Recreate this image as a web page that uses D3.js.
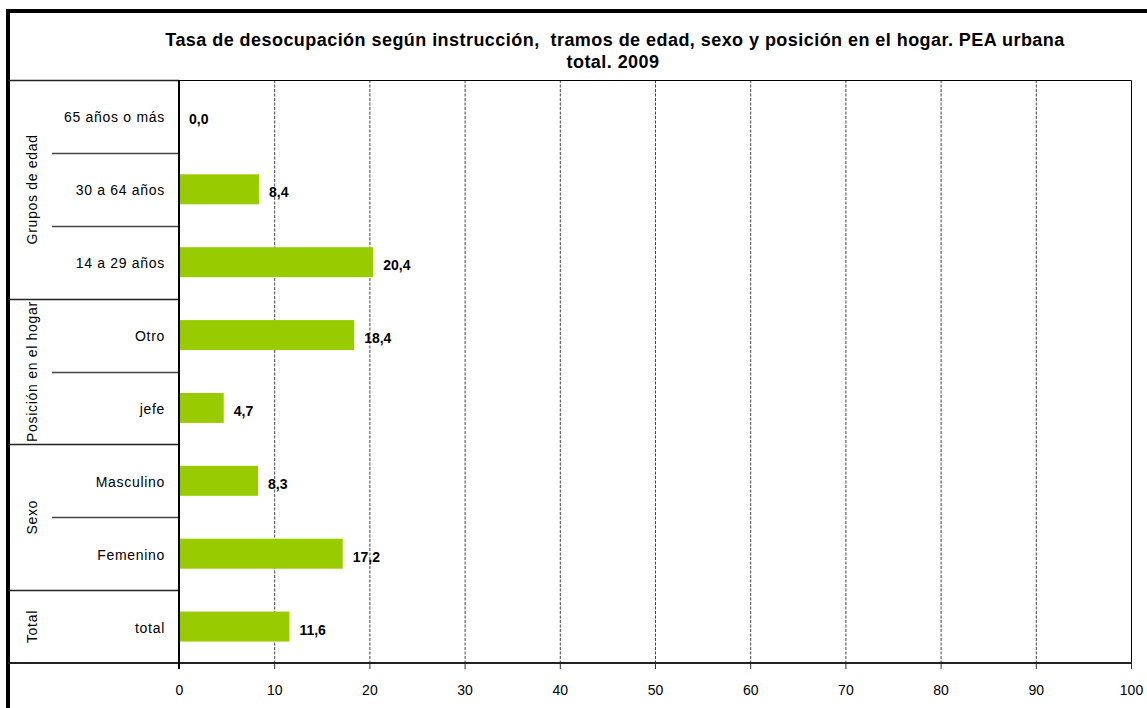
<!DOCTYPE html>
<html>
<head>
<meta charset="utf-8">
<script src="https://cdn.jsdelivr.net/npm/d3@7"></script>
<style>
  body { margin: 0; background: #fff; }
  svg { display: block; font-family: "Liberation Sans", Arial, sans-serif; }
</style>
</head>
<body>
<svg id="chart" width="1147" height="708"></svg>
<script>
// chart data
var titleLines = ["Tasa de desocupación según instrucción,  tramos de edad, sexo y posición en el hogar. PEA urbana", "total. 2009"];
var groups = ["Grupos de edad", "Posición en el hogar", "Sexo", "Total"];
var categories = ["65 años o más", "30 a 64 años", "14 a 29 años", "Otro", "jefe", "Masculino", "Femenino", "total"];
var categoryGroup = [0, 0, 0, 1, 1, 2, 2, 3];
var values = [0.0, 8.4, 20.4, 18.4, 4.7, 8.3, 17.2, 11.6];
var xTicks = [0, 10, 20, 30, 40, 50, 60, 70, 80, 90, 100];

var pad_left = 179, pad_right = 1131, pad_top = 80, pad_bot = 663;
var frame_left = 8, group_col = 52;
var bar_h = 30;

var svg = d3.select("#chart");

var x = d3.scaleLinear().domain([0, 100]).range([pad_left, pad_right]);
var y = d3.scaleBand().domain(categories).range([pad_top, pad_bot]).padding(0);
var bw = y.bandwidth();

function fmt(v) {
    return d3.format(".1f")(v).replace(".", ",");
}

// outer frame (left + top, thick)
svg.append("line").attr("x1", frame_left).attr("x2", frame_left)
    .attr("y1", 9).attr("y2", 708)
    .attr("stroke", "#000").attr("stroke-width", 4);
svg.append("line").attr("x1", 6).attr("x2", 1147)
    .attr("y1", 11).attr("y2", 11)
    .attr("stroke", "#000").attr("stroke-width", 4);

// title
svg.append("g").selectAll("text")
    .data(titleLines)
    .enter().append("text")
    .attr("x", function (d, i) { return i ? 613 : 615; })
    .attr("y", function (d, i) { return 46 + i * 22; })
    .attr("text-anchor", "middle")
    .attr("font-weight", "bold")
    .attr("font-size", 18)
    .attr("letter-spacing", 0.45)
    .style("white-space", "pre")
    .attr("fill", "#000")
    .text(function (d) { return d; });

// vertical dashed gridlines
svg.append("g").selectAll("line")
    .data(xTicks.filter(function (t) { return t > 0 && t < 100; }))
    .enter().append("line")
    .attr("x1", function (d) { return x(d) + 0.5; })
    .attr("x2", function (d) { return x(d) + 0.5; })
    .attr("y1", pad_top).attr("y2", pad_bot)
    .attr("stroke", "#444")
    .attr("stroke-width", 1)
    .attr("stroke-dasharray", "3,1.5");

// plot border (top + right)
svg.append("path")
    .attr("d", "M" + pad_left + "," + (pad_top + 0.5) + "H" + (pad_right + 0.5) + "V" + pad_bot)
    .attr("fill", "none").attr("stroke", "#000").attr("stroke-width", 1);

// category row separators
var rowLines = [];
categories.forEach(function (c, i) {
    if (i === 0) return;
    var newGroup = categoryGroup[i] !== categoryGroup[i - 1];
    rowLines.push({ y: y(c), long: newGroup });
});
rowLines.push({ y: pad_top, long: true });

svg.append("g").selectAll("line")
    .data(rowLines)
    .enter().append("line")
    .attr("x1", function (d) { return d.long ? frame_left : group_col; })
    .attr("x2", pad_left)
    .attr("y1", function (d) { return Math.round(d.y) + 0.5; })
    .attr("y2", function (d) { return Math.round(d.y) + 0.5; })
    .attr("stroke", function (d) { return d.long ? "#222" : "#444"; })
    .attr("stroke-width", 1.5);

// bars
svg.append("g").selectAll("rect")
    .data(values)
    .enter().append("rect")
    .attr("x", x(0))
    .attr("y", function (d, i) { return y(categories[i]) + (bw - bar_h) / 2; })
    .attr("width", function (d) { return x(d) - x(0); })
    .attr("height", bar_h)
    .attr("fill", "#99cc00");

// value labels
svg.append("g").selectAll("text")
    .data(values)
    .enter().append("text")
    .attr("x", function (d) { return x(d) + 10; })
    .attr("y", function (d, i) { return y(categories[i]) + bw / 2 + 8; })
    .attr("font-size", 14)
    .attr("font-weight", "bold")
    .attr("fill", "#000")
    .text(function (d) { return fmt(d); });

// category labels
svg.append("g").selectAll("text")
    .data(categories)
    .enter().append("text")
    .attr("x", 165)
    .attr("y", function (d) { return y(d) + bw / 2 + 6; })
    .attr("text-anchor", "end")
    .attr("font-size", 14)
    .attr("letter-spacing", 0.7)
    .attr("fill", "#000")
    .text(function (d) { return d; });

// group labels (rotated)
svg.append("g").selectAll("text")
    .data(groups)
    .enter().append("text")
    .attr("transform", function (g, gi) {
        var idx = categories.filter(function (c, i) { return categoryGroup[i] === gi; });
        var y0 = y(idx[0]), y1 = y(idx[idx.length - 1]) + bw;
        return "translate(37," + ((y0 + y1) / 2) + ") rotate(-90)";
    })
    .attr("text-anchor", "middle")
    .attr("font-size", 14)
    .attr("letter-spacing", 0.7)
    .attr("fill", "#000")
    .text(function (d) { return d; });

// x axis
var xAxis = d3.axisBottom(x).tickValues(xTicks).tickSize(6).tickPadding(16)
    .tickFormat(function (d) { return d; });
var ax = svg.append("g")
    .attr("transform", "translate(0," + pad_bot + ")")
    .call(xAxis);
ax.select(".domain").remove();
ax.selectAll(".tick line").attr("stroke", "#333");
ax.selectAll(".tick text")
    .attr("font-size", 14)
    .attr("font-family", "Liberation Sans, Arial, sans-serif")
    .attr("fill", "#000");

svg.append("line")
    .attr("x1", frame_left).attr("x2", pad_right + 1)
    .attr("y1", pad_bot).attr("y2", pad_bot)
    .attr("stroke", "#222").attr("stroke-width", 2);

// y axis line
svg.append("line")
    .attr("x1", pad_left).attr("x2", pad_left)
    .attr("y1", pad_top).attr("y2", pad_bot + 6)
    .attr("stroke", "#000").attr("stroke-width", 2);
</script>
</body>
</html>
